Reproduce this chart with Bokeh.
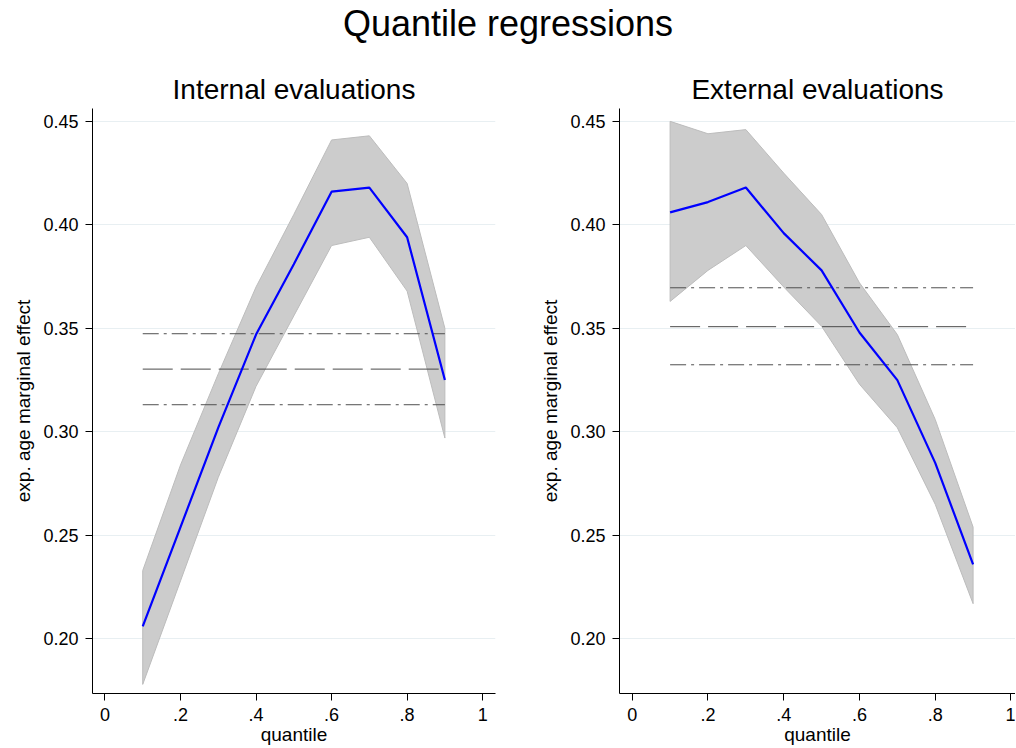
from bokeh.plotting import figure
from bokeh.layouts import column, row
from bokeh.models import Range1d, FixedTicker
from bokeh.embed import file_html
from bokeh.resources import INLINE

# ---- data ----
quantiles = [0.1, 0.2, 0.3, 0.4, 0.5, 0.6, 0.7, 0.8, 0.9]

int_coef = [0.206, 0.254, 0.302, 0.347, 0.381, 0.416, 0.418, 0.394, 0.325]
int_upper = [0.233, 0.284, 0.328, 0.370, 0.405, 0.441, 0.443, 0.420, 0.350]
int_lower = [0.178, 0.228, 0.278, 0.322, 0.356, 0.390, 0.394, 0.368, 0.297]
int_ols = [0.3303, 0.3131, 0.3474]  # mean, lower CI, upper CI

ext_coef = [0.406, 0.411, 0.418, 0.396, 0.378, 0.348, 0.325, 0.285, 0.236]
ext_upper = [0.450, 0.444, 0.446, 0.425, 0.405, 0.372, 0.347, 0.306, 0.254]
ext_lower = [0.363, 0.378, 0.390, 0.370, 0.351, 0.323, 0.302, 0.265, 0.217]
ext_ols = [0.3508, 0.3324, 0.3696]

x_ticks = [0, 0.2, 0.4, 0.6, 0.8, 1.0]
x_tick_labels = ["0", ".2", ".4", ".6", ".8", "1"]
y_ticks = [0.20, 0.25, 0.30, 0.35, 0.40, 0.45]
y_tick_labels = ["0.20", "0.25", "0.30", "0.35", "0.40", "0.45"]

FONT = "Liberation Sans"


def panel(title, coef, upper, lower, ols, width, border_left, border_right, x_lo, x_hi):
    p = figure(width=width, height=687, output_backend="svg", toolbar_location=None,
               x_range=Range1d(x_lo, x_hi), y_range=Range1d(0.1736, 0.4562),
               min_border_left=border_left, min_border_right=border_right,
               min_border_top=48, min_border_bottom=51)
    p.title.text = title
    p.title.align = "center"
    p.title.text_font = FONT
    p.title.text_font_size = "28px"
    p.title.text_font_style = "normal"
    p.title.text_color = "black"
    p.title.standoff = 8
    p.outline_line_color = None
    p.background_fill_color = "white"

    # confidence band
    xs = quantiles + quantiles[::-1]
    ys = upper + lower[::-1]
    p.patch(xs, ys, fill_color="#cccccc", line_color="#bcbcbc", line_width=1)

    # OLS mean and CI lines
    xl = [quantiles[0], quantiles[-1]]
    p.line(xl, [ols[1], ols[1]], line_color="#505050", line_width=1, line_dash="16 5 3 5")
    p.line(xl, [ols[0], ols[0]], line_color="#4a4a4a", line_width=1, line_dash="30 8")
    p.line(xl, [ols[2], ols[2]], line_color="#505050", line_width=1, line_dash="16 5 3 5")

    # quantile coefficients
    p.line(quantiles, coef, line_color="#0000ff", line_width=2.2)

    p.xaxis.ticker = FixedTicker(ticks=x_ticks)
    p.xaxis.major_label_overrides = dict(zip(x_ticks, x_tick_labels))
    p.yaxis.ticker = FixedTicker(ticks=y_ticks)
    p.yaxis.major_label_overrides = dict(zip(y_ticks, y_tick_labels))
    p.xaxis.axis_label = "quantile"
    p.yaxis.axis_label = "exp. age marginal effect"
    for ax in (p.xaxis, p.yaxis):
        ax.axis_line_color = "black"
        ax.axis_line_width = 1
        ax.major_tick_line_color = "black"
        ax.major_tick_out = 7
        ax.major_tick_in = 0
        ax.minor_tick_line_color = None
        ax.major_label_text_font = FONT
        ax.major_label_text_font_size = "18px"
        ax.major_label_text_color = "black"
        ax.axis_label_text_font = FONT
        ax.axis_label_text_font_size = "19px"
        ax.axis_label_text_font_style = "normal"
        ax.axis_label_text_color = "black"
        ax.major_label_standoff = 7
        ax.axis_label_standoff = 6
    p.xaxis.axis_label_standoff = 0
    p.xgrid.visible = False
    p.ygrid.grid_line_color = "#e8eff2"
    p.ygrid.grid_line_width = 1
    return p


top = figure(width=1015, height=60, output_backend="svg", toolbar_location=None,
             min_border_left=0, min_border_right=0, min_border_top=0, min_border_bottom=0,
             x_range=Range1d(0, 1), y_range=Range1d(0, 1))
top.title.text = "Quantile regressions"
top.title.align = "center"
top.title.offset = 7
top.title.text_font = FONT
top.title.text_font_size = "36px"
top.title.text_font_style = "normal"
top.title.text_color = "black"
top.title.standoff = 0
top.axis.visible = False
top.grid.visible = False
top.outline_line_color = None

left = panel("Internal evaluations", int_coef, int_upper, int_lower, int_ols,
             510, 92, 15, -0.033, 1.034)
right = panel("External evaluations", ext_coef, ext_upper, ext_lower, ext_ols,
              505, 109, 0, -0.0336, 1.012)

layout = column(top, row(left, right))
open("out.html", "w").write(file_html(layout, INLINE))
